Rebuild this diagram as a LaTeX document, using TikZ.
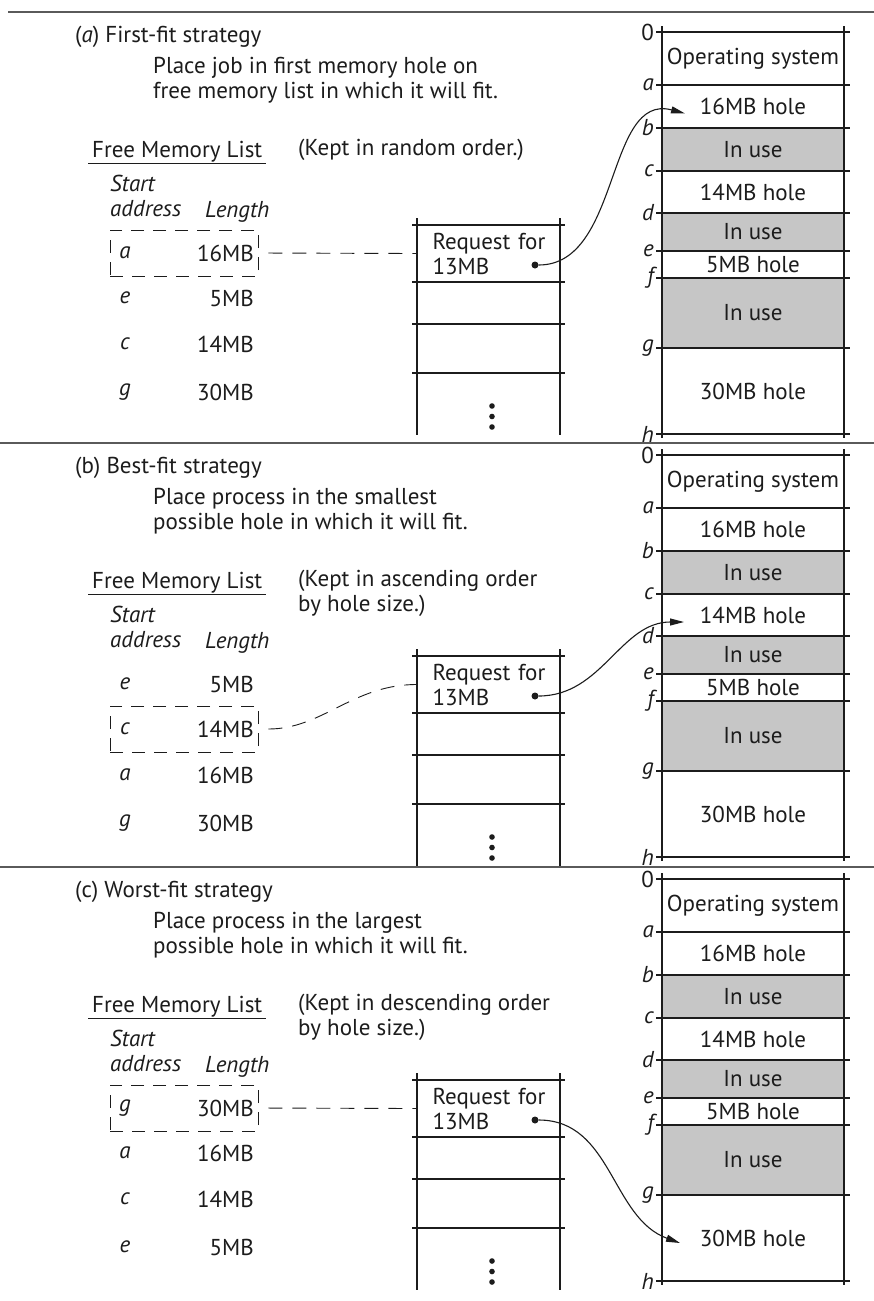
\documentclass[tikz,border=0pt]{standalone}
\usepackage{fontspec}
\setmainfont{PT Sans}
\usetikzlibrary{arrows.meta,positioning}
\definecolor{InkBlack}{HTML}{1C1C1C}
\definecolor{UsedGray}{HTML}{C6C6C6}
\definecolor{RuleGray}{HTML}{5A5A5A}

% memory map: #1 name prefix, #2 y of address 0
\newcommand{\memmap}[2]{%
  \begin{scope}[shift={(0,#2)}]
    \node[seg,minimum height=53pt] (#1os) at (753,26.5) {Operating system};
    \node[seg,minimum height=43pt] (#1h16) at (753,74.5) {16MB hole};
    \node[seg,used,minimum height=43pt] (#1u1) at (753,117.5) {In use};
    \node[seg,minimum height=42pt] (#1h14) at (753,160) {14MB hole};
    \node[seg,used,minimum height=38pt] (#1u2) at (753,200) {In use};
    \node[seg,minimum height=27pt] (#1h5) at (753,232.5) {5MB hole};
    \node[seg,used,minimum height=70pt] (#1u3) at (753,281) {In use};
    \node[seg,minimum height=86pt] (#1h30) at (753,359) {30MB hole};
    \foreach \nm/\lab/\y in {z/{\upshape 0}/0,a/a/53,b/b/96,c/c/139,d/d/181,e/e/219,f/f/246,g/g/316,h/h/402}{
      \draw[memline] (656,\y) -- (850,\y);
      \node[addr] (#1m\nm) at (654,\y) {\lab};
    }
    \draw[memline] (662,-6) -- (662,406) (844,-6) -- (844,406);
  \end{scope}}

% request list: #1 name prefix, #2 y of top line
\newcommand{\reqbox}[2]{%
  \begin{scope}[shift={(0,#2)}]
    \node[cell] (#1req) at (495,28.5) {Request for\\13MB};
    \node[dot] (#1dot) at (535,40) {};
    \foreach \y in {0,57,99,148}{
      \draw[cellline] (412,\y) -- (565,\y);
    }
    \draw[cellline] (417,-7) -- (417,210) (560,-7) -- (560,210);
    \foreach \k in {0,1,2}{
      \fill[InkBlack] (492,181+10.5*\k) circle (2.8pt);
    }
  \end{scope}}

% heading texts of one strategy
\newcommand{\panelhead}[4]{%
  \node[anchor=west] (#1title) at (75,25) {#2};
  \node[anchor=north west,align=left] (#1rule) at (153,45) {#3};
  \node[anchor=west,inner xsep=4pt,inner ysep=0.5pt] (#1fml) at (88,140) {Free Memory List};
  \draw[line width=0.8pt,InkBlack] (#1fml.south west) -- (#1fml.south east);
  \node[anchor=north west,align=left] (#1kept) at (298,127) {#4};
  \node[anchor=north west,align=left,font=\listfont\itshape] (#1start) at (110,163) {Start\\address};
  \node[anchor=west,font=\listfont\itshape] (#1len) at (205,200) {Length};}

% rows of the free memory list
\newcommand{\freelist}[2]{%
  \foreach \s/\len/\y in {#2}{
    \node (#1s\s) at (125,\y) {\textit{\s}};
    \node[anchor=east] (#1l\s) at (254,\y) {\len};
  }}

\newcommand{\listfont}{\fontsize{23}{25}\selectfont}

\begin{document}
\begin{tikzpicture}[x=1pt,y=-1pt,
  every node/.style={font=\listfont,inner sep=0pt,text=InkBlack},
  seg/.style={minimum width=182pt,inner sep=0pt},
  used/.style={fill=UsedGray},
  addr/.style={anchor=east,font=\listfont\itshape},
  memline/.style={line width=1.3pt,color=InkBlack},
  cellline/.style={line width=1.1pt,color=InkBlack},
  cell/.style={text width=125pt,inner xsep=15.5pt,inner ysep=0pt,minimum height=57pt,align=left},
  dot/.style={circle,fill=InkBlack,inner sep=0pt,minimum size=7pt},
  pick/.style={draw=InkBlack,line width=0.9pt,dash pattern=on 13pt off 9pt,minimum width=148pt,minimum height=46pt},
  link/.style={draw=InkBlack,line width=0.9pt,dash pattern=on 14pt off 10pt,shorten <=10pt},
  arr/.style={-{Triangle[length=14pt,width=7pt]},line width=1.1pt,color=InkBlack},
  rule/.style={line width=1.2pt,color=RuleGray}
]
\path[use as bounding box,fill=white] (0,0) rectangle (874,1301);
\draw[rule] (8,12) -- (874,12);
\draw[rule] (0,443) -- (874,443);
\draw[rule] (0,867) -- (874,867);

% (a) first fit
\begin{scope}[shift={(0,12)}]
  \panelhead{a}{(\textit{a}) First-fit strategy}{Place job in first memory hole on\\free memory list in which it will fit.}{(Kept in random order.)}
  \freelist{a}{a/16MB/241,e/5MB/286,c/14MB/332,g/30MB/380}
  \node[pick] (apick) at (184,241) {};
  \reqbox{a}{213}
  \memmap{a}{20}
  \coordinate (ain) at (685,101.5);
  \draw[link] (apick.east) -- (areq.west);
  \draw[arr] (adot) to[out=0,in=165] (ain);
\end{scope}

% (b) best fit
\begin{scope}[shift={(0,443)}]
  \panelhead{b}{(b) Best-fit strategy}{Place process in the smallest\\possible hole in which it will fit.}{(Kept in ascending order\\by hole size.)}
  \freelist{b}{e/5MB/241,c/14MB/286,a/16MB/332,g/30MB/380}
  \node[pick] (bpick) at (184,286) {};
  \reqbox{b}{213}
  \memmap{b}{12}
  \coordinate (bin) at (684,179);
  \draw[link] (bpick.east) to[out=0,in=180] (breq.west);
  \draw[arr] (bdot) to[out=0,in=180] (bin);
\end{scope}

% (c) worst fit
\begin{scope}[shift={(0,867)}]
  \panelhead{c}{(c) Worst-fit strategy}{Place process in the largest\\possible hole in which it will fit.}{(Kept in descending order\\by hole size.)}
  \freelist{c}{g/30MB/241,a/16MB/286,c/14MB/332,e/5MB/380}
  \node[pick] (cpick) at (184,241) {};
  \reqbox{c}{213}
  \memmap{c}{12}
  \coordinate (cin) at (680,376);
  \draw[link] (cpick.east) -- (creq.west);
  \draw[arr] (cdot) to[out=0,in=160] (cin);
\end{scope}
\end{tikzpicture}
\end{document}
